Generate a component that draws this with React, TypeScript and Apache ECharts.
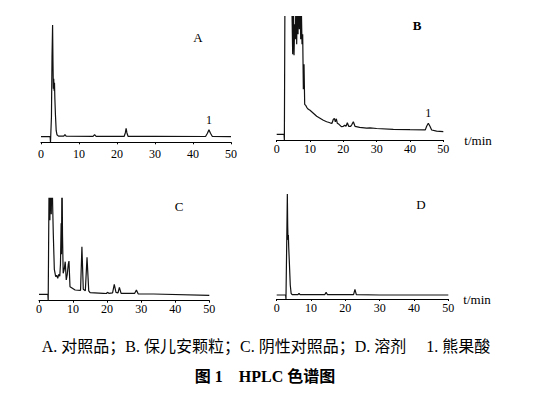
import React, { useEffect, useRef } from "react";
import * as echarts from "echarts";

// x-axis ticks (retention time, min)
const xTicks = [0, 10, 20, 30, 40, 50];
const panelLabels = ["A", "B", "C", "D"];
const peakName = "1";
const axisName = "t/min";
const caption = "A. 对照品；B. 保儿安颗粒；C. 阴性对照品；D. 溶剂　 1. 熊果酸";
const figTitle = "图 1　HPLC 色谱图";

// Panel A: reference substance
const timeA = [0, 2.4, 2.5, 2.65, 2.75, 2.9, 3.05, 3.15, 3.25, 3.35, 3.45, 3.55, 3.65, 3.8, 4.0, 4.2, 4.6, 6.0, 6.3, 6.6, 13.7, 14.1, 14.5, 21.9, 22.2, 22.4, 22.6, 22.9, 30, 43.3, 43.8, 44.2, 44.6, 45.1, 50];
const signalA = [0, 0, -5.6, -5.6, 20, 80, 111.7, 75, 48, 58, 46, 54, 38, 22, 6, 2, 0.6, 0.5, 2.2, 0.5, 0.3, 2, 0.3, 0.4, 4, 8.4, 4, 0.4, 0.3, 0.2, 3.5, 7, 3.5, 0.2, 0];
const peakA = [44.2, 7];

// Panel B: granules sample
const timeB = [0, 2.2, 2.3, 2.4, 2.5, 3.5, 4.4, 4.6, 4.8, 5.0, 5.2, 5.4, 5.6, 5.8, 6.0, 6.2, 6.4, 6.6, 6.8, 7.0, 7.2, 7.4, 7.6, 7.8, 8.0, 8.2, 8.4, 8.7, 9.0, 9.5, 10, 11, 12, 13, 14, 15, 16, 16.6, 17.0, 17.3, 17.6, 17.9, 18.2, 18.7, 19.4, 20.0, 20.4, 20.8, 21.2, 21.6, 22.2, 22.6, 23.0, 23.5, 24.9, 27, 28, 30, 35, 40, 44.6, 45.0, 45.5, 46.0, 46.5, 48, 50];
const signalB = [0, 0, -5.7, -5.7, 160, 170, 150, 120, 80, 140, 79, 110, 95, 145, 90, 150, 100, 160, 105, 150, 95, 125, 90, 100, 45, 70, 30, 29, 27, 25, 24, 21, 18, 16, 14, 12.6, 11.5, 11, 15, 16, 12.5, 15.5, 11, 10, 7.6, 8, 9, 8, 11.5, 8, 8, 10, 12.6, 8, 7, 6.2, 6.5, 5.8, 5, 4.6, 4.4, 8, 11, 8, 4.3, 3.2, 2.6];
const peakB = [45.5, 11];

// Panel C: negative control
const timeC = [0, 2.6, 2.7, 2.8, 3.0, 3.2, 3.4, 3.6, 3.8, 4.0, 4.2, 4.5, 4.9, 5.2, 5.5, 5.8, 6.1, 6.3, 6.5, 6.6, 6.75, 6.9, 7.1, 7.4, 7.7, 8.0, 8.3, 8.6, 8.8, 9.1, 10.6, 12.2, 12.6, 13.0, 13.6, 14.1, 14.6, 15, 18.9, 19.8, 20.1, 20.5, 21.6, 22.1, 22.6, 23.2, 23.6, 24.1, 28.1, 28.6, 29.1, 33.6, 50];
const signalC = [0, 0, -6.4, -6.4, 130, 74, 140, 80, 130, 90, 60, 25, 17.6, 19, 16, 20, 18, 30, 71, 40, 130, 60, 21, 25, 32.6, 14.3, 20, 30, 33.3, 7.6, 4.3, 4, 47.6, 5, 3.5, 37, 3.5, 1.6, 1, 0.8, 2, 1, 1.5, 10, 2, 1.5, 7, 1, 1, 4.3, 0.5, 0.3, -1];

// Panel D: solvent
const timeD = [0, 2.6, 2.7, 2.8, 2.95, 3.1, 3.2, 3.3, 3.4, 3.5, 3.7, 3.95, 4.2, 4.5, 6.2, 6.5, 6.8, 14.0, 14.4, 14.8, 22.4, 22.8, 23.2, 30, 50];
const signalD = [0, 0, -4, -4, 60, 101, 70, 55, 60, 48, 31.7, 10, 1.7, 0.3, 0.3, 1.7, 0.3, 0.3, 2.7, 0.3, 0.3, 5.7, 0.3, 0, 0];

const SERIF = '"Liberation Serif", "Times New Roman", "Noto Sans CJK SC", serif';

const zip = (t: number[], v: number[]) => t.map((x, i) => [x, v[i]]);

export default function App() {
  const ref = useRef<HTMLDivElement>(null);
  useEffect(() => {
    document.body.style.margin = "0";
    if (!ref.current) return;
    const chart = echarts.init(ref.current, null, { renderer: "svg" });

    const panels = [
      { grid: { left: 41, right: 309, top: 25, bottom: 251.7 }, yMin: -5.6, yMax: 111.7, data: zip(timeA, signalA), peak: peakA, margin: 6, name: false },
      { grid: { left: 276.7, right: 96.7, top: 16.7, bottom: 254 }, yMin: -5.7, yMax: 117.6, data: zip(timeB, signalB), peak: peakB, margin: 3, name: true, nameGap: 21 },
      { grid: { left: 39, right: 330.7, top: 198.3, bottom: 93.3 }, yMin: -6.4, yMax: 96, data: zip(timeC, signalC), peak: null, margin: 2, name: false },
      { grid: { left: 276.7, right: 91.7, top: 194, bottom: 95 }, yMin: -4, yMax: 101, data: zip(timeD, signalD), peak: null, margin: 3, name: true, nameGap: 15 },
    ];

    const option: any = {
      animation: false,
      backgroundColor: "#fff",
      color: ["#111"],
      grid: panels.map((p) => ({ ...p.grid, containLabel: false })),
      xAxis: panels.map((p: any, i) => ({
        type: "value",
        gridIndex: i,
        min: xTicks[0],
        max: xTicks[xTicks.length - 1],
        interval: xTicks[1] - xTicks[0],
        name: p.name ? axisName : "",
        nameLocation: "end",
        nameGap: p.nameGap || 15,
        nameTextStyle: { color: "#000", fontFamily: SERIF, fontSize: 13, align: "left", verticalAlign: "middle" },
        axisLine: { show: true, onZero: false, lineStyle: { color: "#000", width: 1.2 } },
        axisTick: { show: true, length: 2, lineStyle: { color: "#000" } },
        axisLabel: { color: "#000", fontFamily: SERIF, fontSize: 12, margin: p.margin },
        splitLine: { show: false },
      })),
      yAxis: panels.map((p, i) => ({
        type: "value",
        gridIndex: i,
        min: p.yMin,
        max: p.yMax,
        show: false,
        splitLine: { show: false },
      })),
      series: panels.map((p, i) => ({
        type: "line",
        xAxisIndex: i,
        yAxisIndex: i,
        data: p.data,
        showSymbol: false,
        symbol: "none",
        clip: true,
        itemStyle: { color: "#111" },
        lineStyle: { color: "#111", width: 1.2 },
        markPoint: p.peak
          ? {
              symbol: "circle",
              symbolSize: 0,
              itemStyle: { color: "#000" },
              label: { show: true, position: "top", distance: 4, formatter: peakName, color: "#000", textBorderWidth: 0, fontFamily: SERIF, fontSize: 12 },
              data: [{ coord: p.peak }],
            }
          : undefined,
      })),
      graphic: [
        { type: "text", x: 198, y: 37, style: { text: panelLabels[0], font: `13px ${SERIF}`, fill: "#000", textAlign: "center", textVerticalAlign: "middle" } },
        { type: "text", x: 417, y: 25, style: { text: panelLabels[1], font: `bold 13px ${SERIF}`, fill: "#000", textAlign: "center", textVerticalAlign: "middle" } },
        { type: "text", x: 179, y: 206, style: { text: panelLabels[2], font: `13px ${SERIF}`, fill: "#000", textAlign: "center", textVerticalAlign: "middle" } },
        { type: "text", x: 421, y: 204, style: { text: panelLabels[3], font: `13px ${SERIF}`, fill: "#000", textAlign: "center", textVerticalAlign: "middle" } },
        { type: "text", x: 266, y: 346, style: { text: caption, font: `16px ${SERIF}`, fill: "#000", textAlign: "center", textVerticalAlign: "middle" } },
        { type: "text", x: 265, y: 376, style: { text: figTitle, font: `bold 16px ${SERIF}`, fill: "#000", textAlign: "center", textVerticalAlign: "middle" } },
      ],
    };
    chart.setOption(option);
    return () => chart.dispose();
  }, []);
  return <div ref={ref} style={{ width: 540, height: 394 }} />;
}
